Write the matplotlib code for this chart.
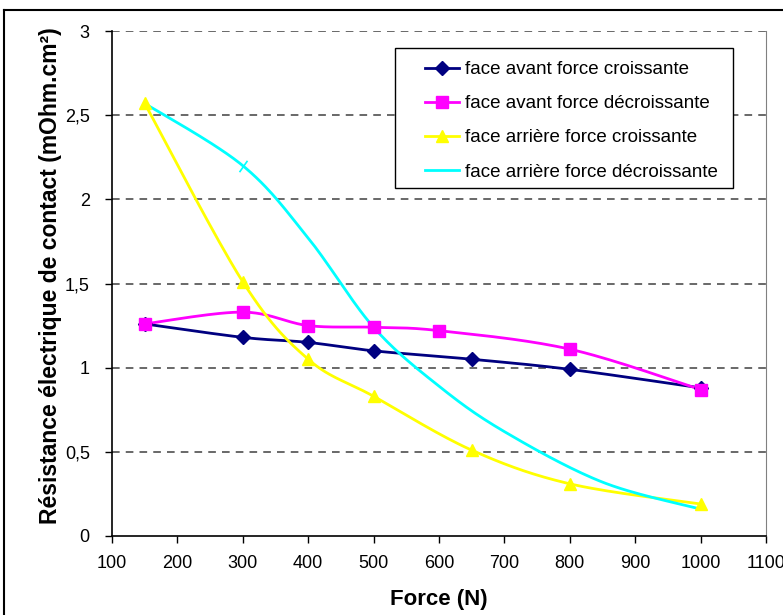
import numpy as np
import matplotlib
matplotlib.use("Agg")
import matplotlib.pyplot as plt
from matplotlib.lines import Line2D
from matplotlib.patches import Rectangle

plt.rcParams["font.family"] = ["Liberation Sans", "DejaVu Sans"]

# --- data ---
force_av_up = [150, 300, 400, 500, 650, 800, 1000]
res_av_up = [1.26, 1.18, 1.15, 1.10, 1.05, 0.99, 0.88]

force_av_down = [150, 300, 400, 500, 600, 800, 1000]
res_av_down = [1.26, 1.33, 1.25, 1.24, 1.22, 1.11, 0.87]

force_ar_up = [150, 300, 400, 500, 650, 800, 1000]
res_ar_up = [2.57, 1.51, 1.05, 0.83, 0.51, 0.31, 0.19]

force_ar_down = [150, 300, 400, 500, 600, 700, 850, 1000]
res_ar_down = [2.57, 2.20, 1.77, 1.24, 0.89, 0.62, 0.32, 0.16]

labels = [
    "face avant force croissante",
    "face avant force décroissante",
    "face arrière force croissante",
    "face arrière force décroissante",
]

x_ticks = list(range(100, 1101, 100))
y_ticks = [0, 0.5, 1, 1.5, 2, 2.5, 3]
y_ticklabels = ["0", "0,5", "1", "1,5", "2", "2,5", "3"]


def smooth(xs, ys, n=30):
    """Excel-like smoothed line (Catmull-Rom Bezier through the points)."""
    p = np.column_stack([xs, ys]).astype(float)
    p = np.vstack([p[0], p, p[-1]])
    out = []
    for i in range(1, len(p) - 2):
        p0, p1, p2, p3 = p[i - 1], p[i], p[i + 1], p[i + 2]
        c1 = p1 + (p2 - p0) / 6.0
        c2 = p2 - (p3 - p1) / 6.0
        t = np.linspace(0, 1, n)[:, None]
        seg = ((1 - t) ** 3) * p1 + 3 * ((1 - t) ** 2) * t * c1 \
            + 3 * (1 - t) * t ** 2 * c2 + t ** 3 * p2
        out.append(seg if i == 1 else seg[1:])
    out = np.vstack(out)
    return out[:, 0], out[:, 1]


fig = plt.figure(figsize=(7.83, 6.15), dpi=100)
ax = fig.add_axes([112 / 783, 1 - 536 / 615, 654 / 783, 505 / 615])

series = [
    (force_av_up, res_av_up, "#000080", "D", 7),
    (force_av_down, res_av_down, "#FF00FF", "s", 8),
    (force_ar_up, res_ar_up, "#FFFF00", "^", 9),
]
handles = []
for (xs, ys, col, mk, ms), lab in zip(series, labels):
    sx, sy = smooth(xs, ys)
    ax.plot(sx, sy, color=col, lw=2, zorder=3)
    ax.plot(xs, ys, ls="none", marker=mk, ms=ms, color=col, zorder=4)
    handles.append(Line2D([], [], color=col, lw=2, marker=mk, ms=ms))

# cyan series: only one small dash marker is visible (at 300 N)
sx, sy = smooth(force_ar_down, res_ar_down)
ax.plot(sx, sy, color="#00FFFF", lw=2, zorder=3)
ax.plot(force_ar_down, res_ar_down, ls="none", marker=(2, 0, -35), ms=10,
        mew=1.2, color="#00FFFF", markevery=[1], zorder=4)
handles.append(Line2D([], [], color="#00FFFF", lw=2))

ax.set_xlim(100, 1100)
ax.set_ylim(0, 3)
ax.set_xticks(x_ticks)
ax.set_yticks(y_ticks)
ax.set_yticklabels(y_ticklabels)
ax.tick_params(direction="out", length=5, width=1, labelsize=13)
ax.tick_params(axis="x", pad=9)
ax.tick_params(axis="y", pad=11)

for y in y_ticks[1:]:
    ax.axhline(y, color="#404040", lw=1.1, ls=(0, (5, 4)), zorder=1)

ax.spines["top"].set_visible(False)
ax.spines["right"].set_color("#808080")
ax.spines["left"].set_linewidth(1.2)
ax.spines["bottom"].set_linewidth(1.2)

ax.set_xlabel("Force (N)", fontsize=16, fontweight="bold", labelpad=12)
ax.set_ylabel("Résistance électrique de contact (mOhm.cm²)", fontsize=16.5,
              fontweight="bold")
ax.yaxis.set_label_coords(-0.0765, 0.515)

# legend box drawn separately so its padding can match the reference
ax.add_patch(Rectangle((0.433, 0.689), 0.517, 0.277, transform=ax.transAxes,
                       facecolor="white", edgecolor="black", lw=1.0,
                       zorder=5))
leg = ax.legend(handles, labels, loc="upper left",
                bbox_to_anchor=(0.4786, 0.9406), fontsize=13.5, frameon=False,
                handlelength=1.8, handletextpad=0.35, labelspacing=0.91,
                borderpad=0, borderaxespad=0)
leg.set_zorder(6)

# chart area border (left and top edges visible)
fig.add_artist(Line2D([3.5 / 783, 3.5 / 783], [0, 1 - 10 / 615],
                      transform=fig.transFigure, color="black", lw=1.5))
fig.add_artist(Line2D([3.5 / 783, 1], [1 - 10 / 615, 1 - 10 / 615],
                      transform=fig.transFigure, color="black", lw=1.5))

fig.savefig("out.png", dpi=100)
